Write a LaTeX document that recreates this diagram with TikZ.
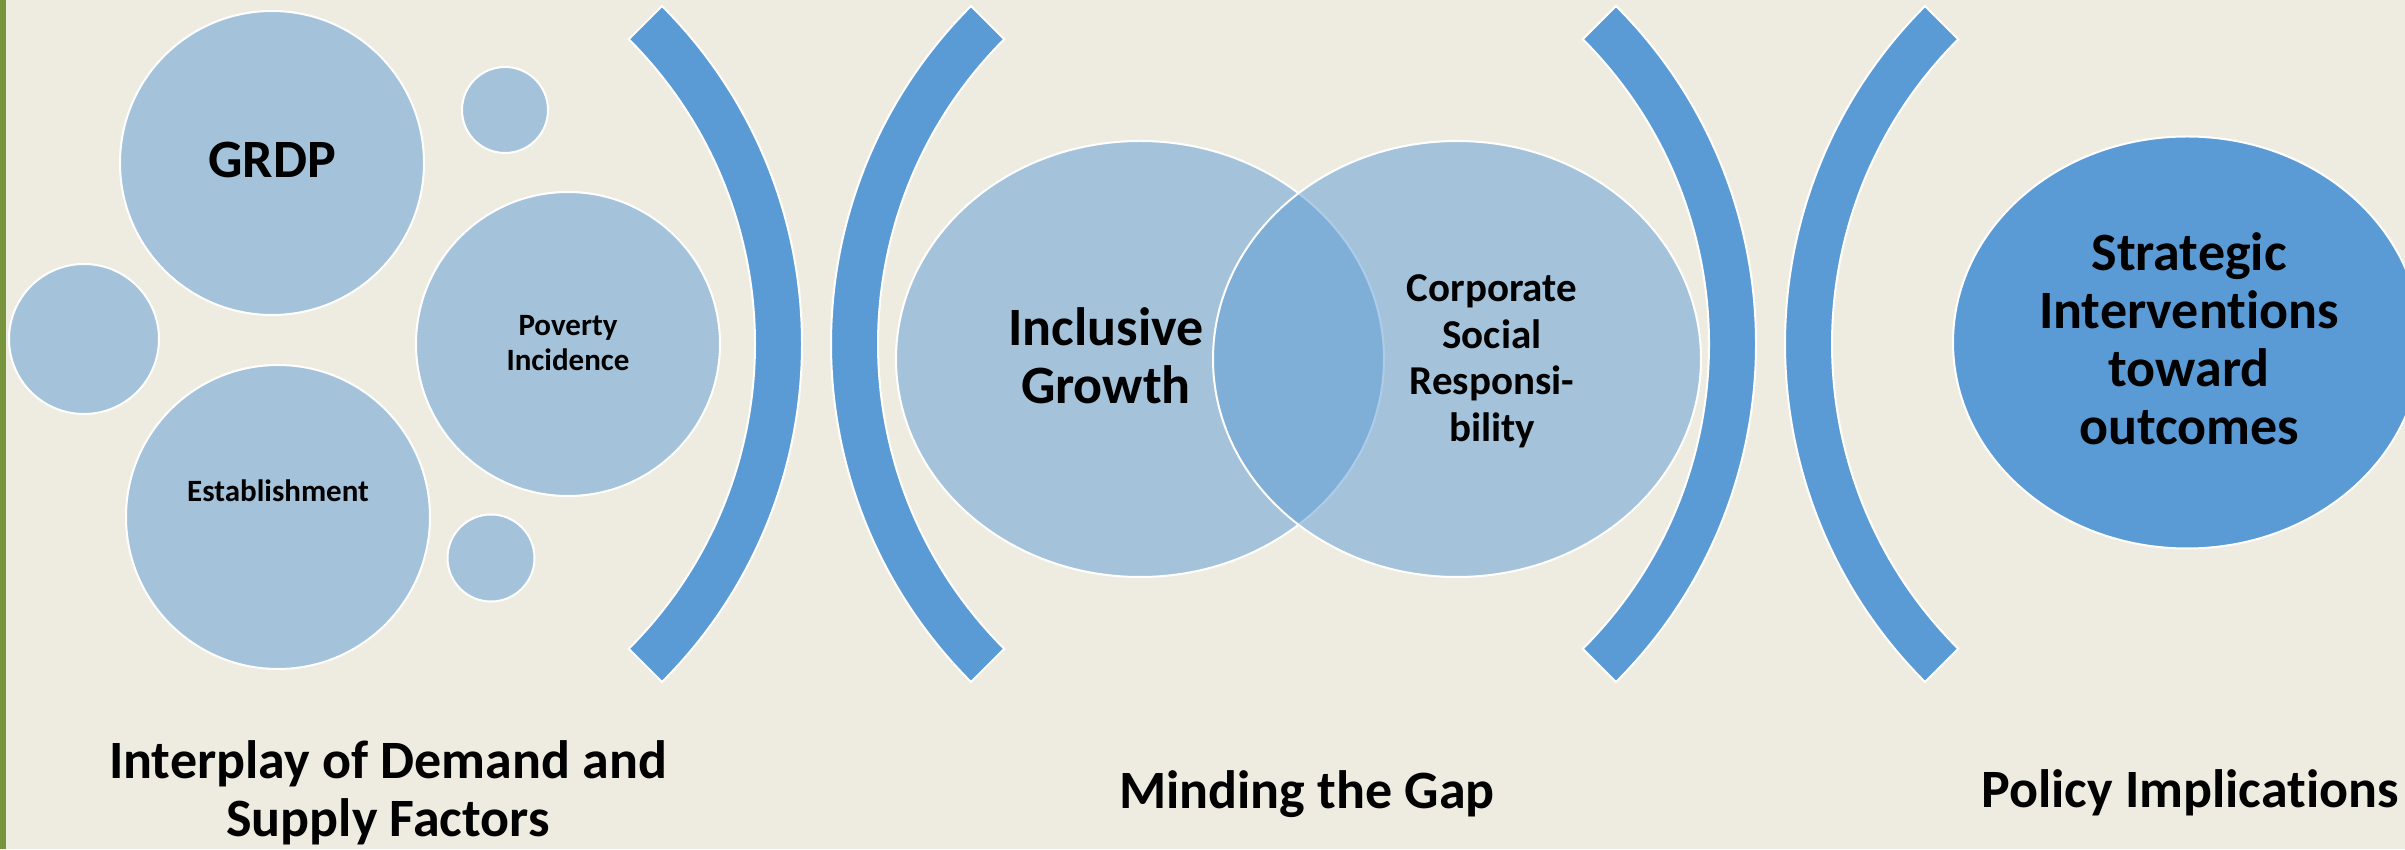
\documentclass[tikz,border=0pt]{standalone}
\usepackage{fontspec}
\setmainfont{Carlito}[Ligatures=NoCommon]
\usetikzlibrary{shapes.geometric,calc}
\definecolor{paper}{HTML}{EEECE1}
\definecolor{leaf}{HTML}{77933C}
\definecolor{accent}{HTML}{5B9BD5}
\begin{document}
\begin{tikzpicture}[x=1pt,y=1pt,
  bubble/.style={circle, fill=accent, fill opacity=0.5, text opacity=1,
    draw=white, draw opacity=1, line width=2pt, inner sep=0pt},
  oval/.style={ellipse, fill=accent, fill opacity=0.5, text opacity=1,
    draw=white, draw opacity=1, line width=2pt, inner sep=0pt},
  solidoval/.style={ellipse, fill=accent, draw=white, line width=2pt, inner sep=0pt},
  bracket/.style={fill=accent, draw=white, line width=2pt, line join=miter},
  txt/.style={font=\bfseries, align=center, inner sep=0pt, text=black, anchor=base},
  big/.style={txt, font=\bfseries\fontsize{54}{58}\selectfont},
  mid/.style={txt, font=\bfseries\fontsize{41}{46.7}\selectfont},
  small/.style={txt, font=\bfseries\fontsize{31}{35}\selectfont}]
\useasboundingbox (0,0) rectangle (2405,849);
\clip (0,0) rectangle (2405,849);
\fill[paper] (0,0) rectangle (2405,849);
\fill[leaf] (0,0) rectangle (5.5,849);

% first column: cluster of bubbles
\node[bubble, minimum size=304] (grdp) at (272,686) {};
\node[bubble, minimum size=86] (dotA) at (505,739) {};
\node[bubble, minimum size=150] (dotB) at (84,510) {};
\node[bubble, minimum size=304] (pov) at (568,505) {};
\node[bubble, minimum size=304] (est) at (278,332) {};
\node[bubble, minimum size=87] (dotC) at (491,291) {};
% multi-line labels sit on the baseline of their last line
\node[big] (grdpT) at (272,671.3) {GRDP};
\node[small] (povT) at (568,478.5) {Poverty\\Incidence};
\node[small] (estT) at (278,347) {Establishment};

% thick arcs separating the columns
\coordinate (b1) at (324,505);
\coordinate (b2) at (1309,505);
\coordinate (b3) at (1278,505);
\coordinate (b4) at (2263,505);
\foreach \c in {b1,b3}{
  \filldraw[bracket] ($(\c)+(-45:478)$) arc[start angle=-45,end angle=45,radius=478]
    -- ($(\c)+(45:431)$) arc[start angle=45,end angle=-45,radius=431] -- cycle;
}
\foreach \c in {b2,b4}{
  \filldraw[bracket] ($(\c)+(135:478)$) arc[start angle=135,end angle=225,radius=478]
    -- ($(\c)+(225:431)$) arc[start angle=225,end angle=135,radius=431] -- cycle;
}

% second column: overlapping pair
\node[oval, minimum width=488, minimum height=436] (incl) at (1140,490) {};
\node[oval, minimum width=488, minimum height=436] (csr) at (1457,490) {};
\node[big] (inclT) at (1106,445) {Inclusive\\Growth};
\node[mid] (csrT) at (1492,407.3) {Corporate\\Social\\Responsi-\\bility};

% third column
\node[solidoval, minimum width=468, minimum height=412] (strat) at (2187,506.5) {};
\node[big] (stratT) at (2189,404) {Strategic\\Interventions\\toward\\outcomes};

% column captions
\node[big] (cap1) at (388,12.3) {Interplay of Demand and\\Supply Factors};
\node[big] (cap2) at (1307,40.7) {Minding the Gap};
\node[big] (cap3) at (2190,41.3) {Policy Implications};
\end{tikzpicture}
\end{document}
